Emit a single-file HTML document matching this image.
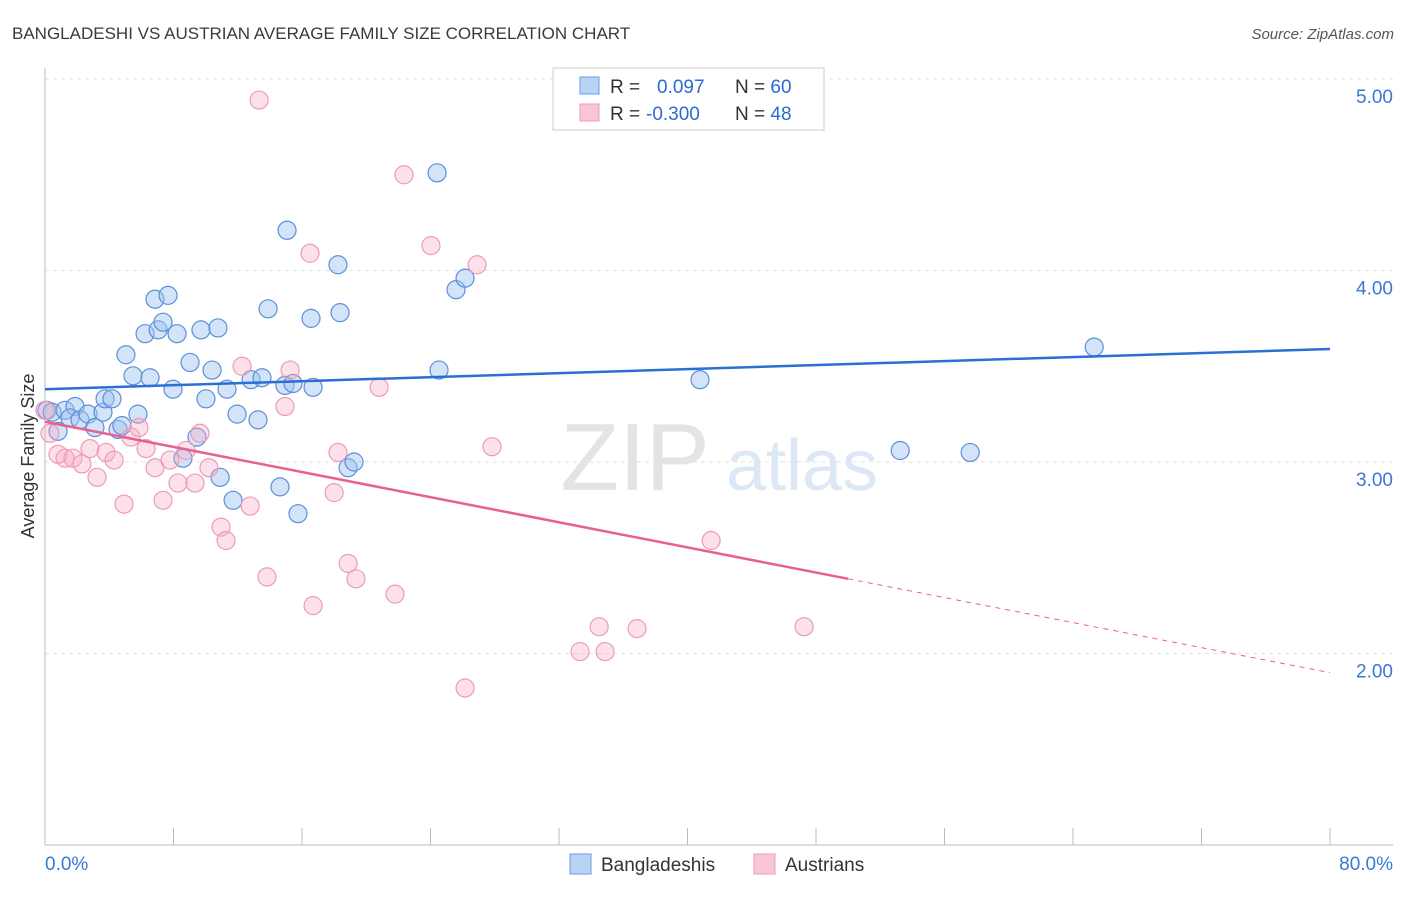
<!DOCTYPE html>
<html><head><meta charset="utf-8"><style>
body{margin:0;background:#fff;font-family:"Liberation Sans",sans-serif;}
svg text{font-family:"Liberation Sans",sans-serif;}
</style></head><body>
<svg id="chart" width="1406" height="892" viewBox="0 0 1406 892">
<text x="12" y="39" font-size="17" fill="#3a3a3a">BANGLADESHI VS AUSTRIAN AVERAGE FAMILY SIZE CORRELATION CHART</text>
<text x="1394" y="39" font-size="15" fill="#555" font-style="italic" text-anchor="end">Source: ZipAtlas.com</text>
<g><text x="635" y="490" font-size="96" fill="#e4e4e4" font-family="Liberation Serif" text-anchor="middle">ZIP</text><text x="802" y="490" font-size="72" fill="#dde8f6" text-anchor="middle">atlas</text></g>
<g id="grid"></g>
<g id="axes"></g>
<g id="marks"></g>
<text transform="translate(34,456) rotate(-90)" font-size="18" fill="#333" text-anchor="middle">Average Family Size</text>
<g>
<rect x="553" y="68" width="271" height="62" fill="#fff" stroke="#ccc"/>
<rect x="580" y="77" width="19" height="17" fill="#b9d3f5" stroke="#6a9ce0"/>
<rect x="580" y="104" width="19" height="17" fill="#f9c6d6" stroke="#ee9bb5"/>
<text x="610" y="93" font-size="19" fill="#333">R = <tspan fill="#2a6bd1" x="657">0.097</tspan><tspan fill="#333" x="735">N = </tspan><tspan fill="#2a6bd1">60</tspan></text>
<text x="610" y="120" font-size="19" fill="#333">R = <tspan fill="#2a6bd1" x="646">-0.300</tspan><tspan fill="#333" x="735">N = </tspan><tspan fill="#2a6bd1">48</tspan></text>
</g>
<g>
<rect x="570" y="854" width="21" height="20" fill="#b9d3f5" stroke="#6a9ce0"/>
<text x="601" y="871" font-size="19" fill="#333">Bangladeshis</text>
<rect x="754" y="854" width="21" height="20" fill="#f9c6d6" stroke="#ee9bb5"/>
<text x="785" y="871" font-size="19" fill="#333">Austrians</text>
</g>
</svg>
<script>
const yTicks=[2,3,4,5];
const yTickLabels=["2.00","3.00","4.00","5.00"];
const xTicks=[0,8,16,24,32,40,48,56,64,72,80];
const xEndLabels=["0.0%","80.0%"];
const blueX=[0.12,0.44,0.81,1.25,1.87,1.56,2.18,2.68,3.11,3.61,3.74,4.17,4.55,4.79,5.04,5.48,5.79,6.23,6.54,6.85,7.04,7.35,7.66,7.97,8.22,8.59,9.03,9.46,9.71,10.02,10.40,10.77,10.90,11.33,11.71,11.96,12.83,13.26,13.51,13.89,14.63,14.94,15.07,15.44,15.75,16.56,16.69,18.24,18.37,18.87,19.24,24.41,24.53,25.59,26.15,40.78,53.24,57.60,65.32];
const blueY=[3.27,3.26,3.16,3.27,3.29,3.23,3.22,3.25,3.18,3.26,3.33,3.33,3.17,3.19,3.56,3.45,3.25,3.67,3.44,3.85,3.69,3.73,3.87,3.38,3.67,3.02,3.52,3.13,3.69,3.33,3.48,3.70,2.92,3.38,2.80,3.25,3.43,3.22,3.44,3.80,2.87,3.40,4.21,3.41,2.73,3.75,3.39,4.03,3.78,2.97,3.00,4.51,3.48,3.90,3.96,3.43,3.06,3.05,3.60];
const pinkX=[0,0.31,0.81,1.25,1.74,2.30,2.80,3.24,3.80,4.30,4.92,5.35,5.85,6.29,6.85,7.35,7.78,8.28,8.78,9.34,9.65,10.21,10.96,11.27,12.27,12.77,13.33,13.82,14.94,15.26,16.50,16.69,18.00,18.24,18.87,19.36,20.80,21.79,22.35,24.03,26.15,26.90,27.83,33.31,34.50,34.87,36.86,41.47,47.26];
const pinkY=[3.27,3.15,3.04,3.02,3.02,2.99,3.07,2.92,3.05,3.01,2.78,3.13,3.18,3.07,2.97,2.80,3.01,2.89,3.06,2.89,3.15,2.97,2.66,2.59,3.50,2.77,4.89,2.40,3.29,3.48,4.09,2.25,2.84,3.05,2.47,2.39,3.39,2.31,4.50,4.13,1.82,4.03,3.08,2.01,2.14,2.01,2.13,2.59,2.14];
const blueTrend=[[0,3.38],[80,3.59]];
const pinkTrend=[[0,3.21],[50,2.39],[80,1.90]];
const NS="http://www.w3.org/2000/svg";
const X=v=>45+v*(1285/80);
const Y=v=>79+(5-v)*191.5;
function mk(tag,attrs,parent){const e=document.createElementNS(NS,tag);for(const k in attrs)e.setAttribute(k,attrs[k]);document.getElementById(parent).appendChild(e);return e;}
yTicks.forEach((t,i)=>{
 const l=mk('line',{x1:45,x2:1393,y1:Y(t),y2:Y(t),stroke:'#e2e2e2','stroke-dasharray':'4,4'},'grid');
 
 
 const tx=mk('text',{x:1393,y:Y(t)+24,'font-size':19,fill:'#3a78d4','text-anchor':'end'},'axes');
 tx.textContent=yTickLabels[i];
 
 
});
let a=mk('line',{x1:45,x2:45,y1:68,y2:845,stroke:'#bbb'},'axes');


a=mk('line',{x1:45,x2:1393,y1:845,y2:845,stroke:'#bbb'},'axes');


xTicks.forEach(t=>{const l=mk('line',{x1:X(t),x2:X(t),y1:828,y2:845,stroke:'#bbb'},'axes');
 
 });
let t0=mk('text',{x:45,y:870,'font-size':19,fill:'#3a78d4'},'axes');t0.textContent=xEndLabels[0];


let t1=mk('text',{x:1393,y:870,'font-size':19,fill:'#3a78d4','text-anchor':'end'},'axes');t1.textContent=xEndLabels[1];


blueX.forEach((x,i)=>{const c=mk('circle',{cx:X(x),cy:Y(blueY[i]),r:9,fill:'rgba(160,196,240,0.45)',stroke:'#5b8fd9','stroke-width':1.2},'marks');
 
 });
pinkX.forEach((x,i)=>{const c=mk('circle',{cx:X(x),cy:Y(pinkY[i]),r:9,fill:'rgba(245,170,195,0.35)',stroke:'#ee9bb5','stroke-width':1.2},'marks');
 
 });
let bl=mk('line',{x1:X(blueTrend[0][0]),y1:Y(blueTrend[0][1]),x2:X(blueTrend[1][0]),y2:Y(blueTrend[1][1]),stroke:'#2a6fd6','stroke-width':2.5},'marks');


let pl=mk('line',{x1:X(pinkTrend[0][0]),y1:Y(pinkTrend[0][1]),x2:X(pinkTrend[1][0]),y2:Y(pinkTrend[1][1]),stroke:'#e8608e','stroke-width':2.5},'marks');


let pd=mk('line',{x1:X(pinkTrend[1][0]),y1:Y(pinkTrend[1][1]),x2:X(pinkTrend[2][0]),y2:Y(pinkTrend[2][1]),stroke:'#e8608e','stroke-width':1,'stroke-dasharray':'5,5'},'marks');


</script>
</body></html>
